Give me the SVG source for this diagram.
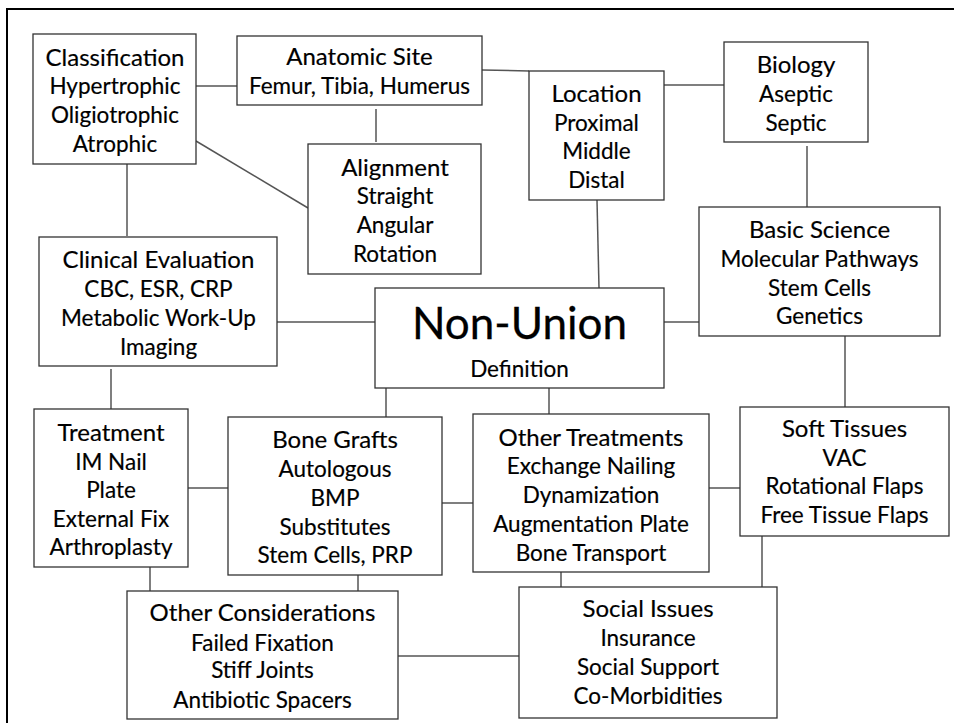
<svg xmlns="http://www.w3.org/2000/svg" width="954" height="723" viewBox="0 0 954 723">
<style>
.b{fill:#fff;stroke:#333;stroke-width:1.3}
.c line{stroke:#555;stroke-width:1.5}
text{font-family:Lato,"Open Sans",sans-serif;fill:#000;stroke:#000;stroke-width:0.18;text-anchor:middle}
.t{font-size:24px}
.s{font-size:22.5px}
.big{font-size:44px;stroke-width:0.3}
</style>
<rect width="954" height="723" fill="#fff"/>
<rect x="7" y="9" width="960" height="730" fill="none" stroke="#000" stroke-width="2"/>
<g class="c" id="connectors">
<line x1="196" y1="86" x2="237" y2="86"/>
<line x1="376" y1="109" x2="376" y2="142"/>
<line x1="196" y1="141" x2="308" y2="208"/>
<line x1="127" y1="164" x2="127" y2="236"/>
<line x1="482" y1="70" x2="529" y2="71"/>
<line x1="664" y1="85" x2="724" y2="85"/>
<line x1="807" y1="146" x2="807" y2="208"/>
<line x1="597" y1="200" x2="599" y2="288"/>
<line x1="664" y1="322" x2="699" y2="322"/>
<line x1="277" y1="322" x2="375" y2="322"/>
<line x1="111" y1="369" x2="111" y2="409"/>
<line x1="386" y1="382" x2="386" y2="417"/>
<line x1="188" y1="488" x2="228" y2="488"/>
<line x1="549" y1="382" x2="549" y2="414"/>
<line x1="442" y1="503" x2="473" y2="503"/>
<line x1="845" y1="336" x2="845" y2="407"/>
<line x1="709" y1="488" x2="740" y2="488"/>
<line x1="150" y1="564" x2="150" y2="591"/>
<line x1="358" y1="573" x2="358" y2="591"/>
<line x1="398" y1="656" x2="519" y2="656"/>
<line x1="561" y1="572" x2="561" y2="587"/>
<line x1="762" y1="536" x2="762" y2="587"/>
</g>
<g id="classification">
<rect class="b" x="33" y="34" width="163" height="130"/>
<text class="t" x="115" y="66">Classification</text>
<text class="s" x="115" y="94">Hypertrophic</text>
<text class="s" x="115" y="123">Oligiotrophic</text>
<text class="s" x="115" y="152">Atrophic</text>
</g>
<g id="anatomic-site">
<rect class="b" x="237" y="36" width="245" height="69"/>
<text class="t" x="359.5" y="65">Anatomic Site</text>
<text class="s" x="359.5" y="94">Femur, Tibia, Humerus</text>
</g>
<g id="alignment">
<rect class="b" x="308" y="144" width="173" height="130"/>
<text class="t" x="395" y="176">Alignment</text>
<text class="s" x="395" y="204">Straight</text>
<text class="s" x="395" y="233">Angular</text>
<text class="s" x="395" y="262">Rotation</text>
</g>
<g id="location">
<rect class="b" x="529" y="71" width="135" height="129"/>
<text class="t" x="596.5" y="102">Location</text>
<text class="s" x="596.5" y="131">Proximal</text>
<text class="s" x="596.5" y="159">Middle</text>
<text class="s" x="596.5" y="188">Distal</text>
</g>
<g id="biology">
<rect class="b" x="724" y="42" width="144" height="100"/>
<text class="t" x="796" y="73">Biology</text>
<text class="s" x="796" y="102">Aseptic</text>
<text class="s" x="796" y="131">Septic</text>
</g>
<g id="basic-science">
<rect class="b" x="699" y="207" width="241" height="129"/>
<text class="t" x="819.5" y="238">Basic Science</text>
<text class="s" x="819.5" y="267">Molecular Pathways</text>
<text class="s" x="819.5" y="296">Stem Cells</text>
<text class="s" x="819.5" y="324">Genetics</text>
</g>
<g id="clinical-evaluation">
<rect class="b" x="39" y="237" width="238" height="129"/>
<text class="t" x="158.5" y="268">Clinical Evaluation</text>
<text class="s" x="158.5" y="297">CBC, ESR, CRP</text>
<text class="s" x="158.5" y="326">Metabolic Work-Up</text>
<text class="s" x="158.5" y="355">Imaging</text>
</g>
<g id="non-union">
<rect class="b" x="375" y="288" width="289" height="100"/>
<text class="big" x="519.5" y="339">Non-Union</text>
<text class="s" x="519.5" y="377">Definition</text>
</g>
<g id="treatment">
<rect class="b" x="34" y="409" width="154" height="158"/>
<text class="t" x="111" y="441">Treatment</text>
<text class="s" x="111" y="470">IM Nail</text>
<text class="s" x="111" y="498">Plate</text>
<text class="s" x="111" y="527">External Fix</text>
<text class="s" x="111" y="555">Arthroplasty</text>
</g>
<g id="bone-grafts">
<rect class="b" x="228" y="417" width="214" height="158"/>
<text class="t" x="335" y="448">Bone Grafts</text>
<text class="s" x="335" y="477">Autologous</text>
<text class="s" x="335" y="506">BMP</text>
<text class="s" x="335" y="535">Substitutes</text>
<text class="s" x="335" y="563">Stem Cells, PRP</text>
</g>
<g id="other-treatments">
<rect class="b" x="473" y="414" width="236" height="158"/>
<text class="t" x="591" y="446">Other Treatments</text>
<text class="s" x="591" y="474">Exchange Nailing</text>
<text class="s" x="591" y="503">Dynamization</text>
<text class="s" x="591" y="532">Augmentation Plate</text>
<text class="s" x="591" y="561">Bone Transport</text>
</g>
<g id="soft-tissues">
<rect class="b" x="740" y="407" width="209" height="129"/>
<text class="t" x="844.5" y="437">Soft Tissues</text>
<text class="s" x="844.5" y="466">VAC</text>
<text class="s" x="844.5" y="494">Rotational Flaps</text>
<text class="s" x="844.5" y="523">Free Tissue Flaps</text>
</g>
<g id="other-considerations">
<rect class="b" x="127" y="591" width="271" height="128"/>
<text class="t" x="262.5" y="621">Other Considerations</text>
<text class="s" x="262.5" y="651">Failed Fixation</text>
<text class="s" x="262.5" y="678">Stiff Joints</text>
<text class="s" x="262.5" y="708">Antibiotic Spacers</text>
</g>
<g id="social-issues">
<rect class="b" x="519" y="587" width="258" height="131"/>
<text class="t" x="648" y="617">Social Issues</text>
<text class="s" x="648" y="646">Insurance</text>
<text class="s" x="648" y="675">Social Support</text>
<text class="s" x="648" y="704">Co-Morbidities</text>
</g>
</svg>
